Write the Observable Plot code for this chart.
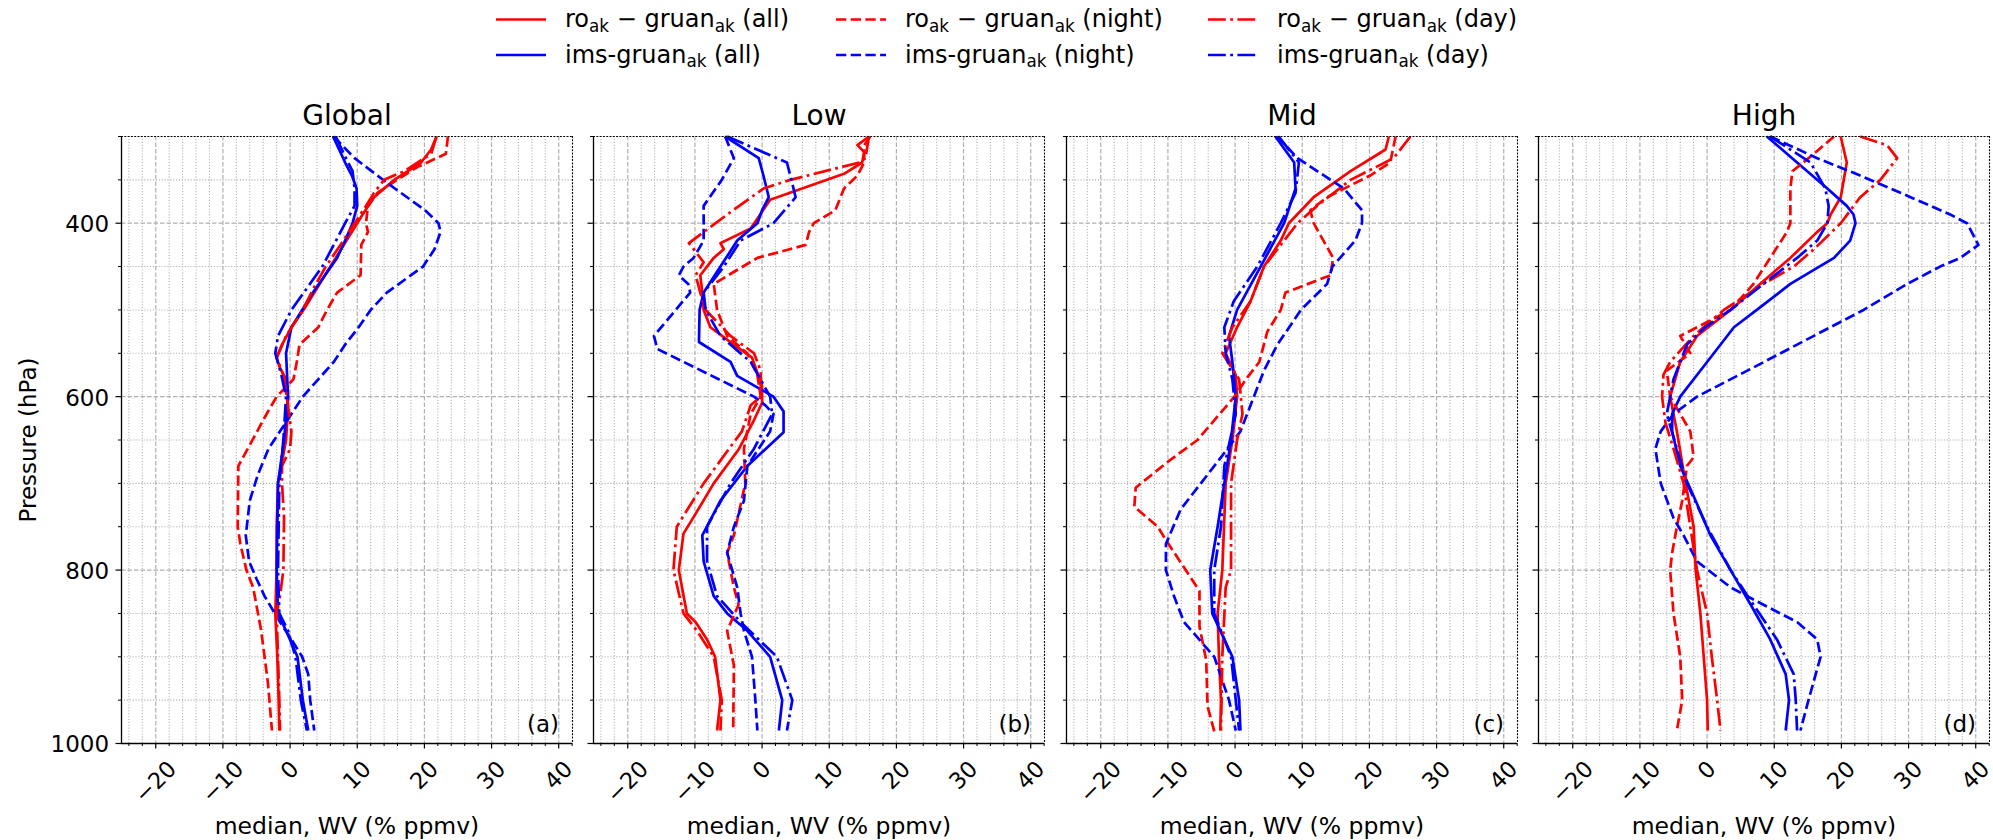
<!DOCTYPE html>
<html>
<head>
<meta charset="utf-8">
<script src="https://cdn.jsdelivr.net/npm/d3@7"></script>
<script src="https://cdn.jsdelivr.net/npm/@observablehq/plot@0.6"></script>
<style>
  html, body { margin: 0; padding: 0; background: #fff; }
  #chart { position: relative; width: 1993px; height: 840px; overflow: hidden; font-family: "DejaVu Sans", sans-serif; }
  .panel { position: absolute; top: 80px; }
  #legend { position: absolute; left: 0; top: 0; }
</style>
</head>
<body>
<div id="chart"><svg id="legend" width="1993" height="80"></svg></div>
<script>
// ---- axis ticks ----
const pressureMajor = [400, 600, 800, 1000];
const pressureMinor = [300, 350, 450, 500, 550, 650, 700, 750, 850, 900, 950];
const wvMajor = [-20, -10, 0, 10, 20, 30, 40];
const wvMinor = [-24, -22, -18, -16, -14, -12, -8, -6, -4, -2, 2, 4, 6, 8, 12, 14, 16, 18, 22, 24, 26, 28, 32, 34, 36, 38, 42];

// ---- panels ----
const panelTitles = ["Global", "Low", "Mid", "High"];
const panelTags = ["(a)", "(b)", "(c)", "(d)"];
const kinds = ["all", "night", "day"];

// ---- profiles: [pressure hPa, median WV difference %] ----
const globalRoAll = [[300,21.8],[315,21],[330,19.5],[350,15.5],[370,12.5],[390,10.8],[400,10],[425,8],[450,6],[475,4],[500,2],[520,0.2],[540,-1.2],[555,-2],[565,-1.6],[580,-0.6],[600,-0.3],[625,-0.4],[650,-0.6],[675,-1.2],[700,-1.8],[750,-2],[800,-2],[850,-2.2],[900,-1.9],[950,-1.7],[985,-1.6]];
const globalRoNight = [[300,23.5],[320,23.2],[335,19],[350,15.9],[365,13],[380,11.6],[400,11.3],[410,11.6],[425,10.6],[460,10.5],[480,7],[500,5.5],[520,4.2],[540,1.4],[560,1],[580,0.5],[600,-2],[620,-3.5],[640,-4.9],[660,-6.3],[680,-7.7],[750,-7.8],[770,-7.4],[800,-6.5],[820,-5.5],[870,-4.3],[930,-3.3],[985,-2.7]];
const globalRoDay = [[300,21.8],[320,21],[340,17],[350,14],[365,12.5],[380,11.3],[400,9.6],[425,7.5],[450,5.3],[475,3.5],[500,1.9],[530,-0.6],[555,-2],[575,-1],[600,-0.5],[640,0.2],[660,0],[680,-1.2],[700,-1.2],[740,-0.9],[800,-1],[830,-1.5],[850,-2],[900,-1.8],[950,-1.6],[985,-1.5]];
const globalImsAll = [[300,6.4],[315,7.3],[330,8.2],[345,9.2],[360,9.9],[380,10],[400,9.3],[420,8.2],[440,7],[460,5.2],[480,3.4],[500,1.8],[520,0.2],[550,-0.6],[600,-0.3],[650,-0.9],[700,-1.8],[750,-1.9],[800,-2],[850,-1.8],[870,-0.6],[900,1.1],[925,1.5],[950,1.9],[985,2.7]];
const globalImsNight = [[300,6.5],[325,9.6],[345,13],[360,15.6],[385,20.1],[400,22.1],[410,22.4],[430,21.5],[450,19.8],[480,14.4],[500,12],[520,10.2],[540,8.2],[560,6.5],[580,4.2],[600,1.9],[620,0.2],[640,-1.5],[660,-3.2],[690,-4.8],[720,-6],[760,-6.6],[790,-6.1],[810,-5],[830,-3.8],[860,-1.5],[880,0.2],[900,1.8],[920,2.7],[950,3],[985,3.6]];
const globalImsDay = [[300,6.8],[320,8],[340,9.3],[360,9.6],[380,9.6],[400,8.2],[425,6.5],[450,4.8],[475,2.5],[500,0.2],[530,-1.8],[550,-2.2],[575,-1.3],[600,-0.6],[650,-1],[700,-1.6],[750,-1.7],[800,-1.8],[850,-1.6],[870,-0.3],[900,0.8],[950,1.6],[985,2.5]];

const lowRoAll = [[300,15.9],[310,14.2],[318,15.2],[330,14.9],[343,12.2],[373,1.2],[406,-1.7],[423,-6.2],[430,-5.7],[440,-7.2],[460,-9.2],[480,-8.9],[500,-8.7],[520,-7.7],[540,-4.2],[555,-1.5],[588,0],[607,0],[627,-1.2],[661,-3.5],[700,-7.2],[739,-10.2],[758,-11.7],[800,-12.4],[850,-11.2],[860,-9.9],[880,-8.2],[900,-7],[950,-6.2],[985,-6.7]];
const lowRoNight = [[300,16.1],[310,15.2],[330,15.2],[345,14.2],[360,12.2],[385,10.9],[400,7.7],[410,7],[425,6.5],[440,-0.7],[470,-7.2],[500,-6.7],[530,-5.2],[550,-2.2],[575,-0.7],[600,-0.2],[620,-1.7],[660,-2.7],[700,-2.5],[760,-4.2],[780,-5.2],[820,-4.2],[840,-3.5],[870,-5.2],[910,-4.2],[985,-4.3]];
const lowRoDay = [[300,15.9],[325,15.4],[330,14.5],[350,4.2],[360,0.2],[390,-5.2],[423,-10.9],[435,-9.7],[445,-8.7],[460,-9.9],[480,-9.2],[500,-8.4],[530,-4.7],[550,-1.2],[570,-0.2],[600,-0.2],[610,-1.7],[640,-3],[700,-8.7],[750,-12.7],[800,-13.2],[850,-11.7],[870,-9.7],[900,-7.2],[950,-6],[985,-6.2]];
const lowImsAll = [[300,-5.5],[325,-0.5],[345,0.2],[370,1],[385,0],[400,-0.7],[420,-3.7],[450,-6.2],[480,-8.7],[500,-9.3],[537,-9.4],[560,-4.7],[576,-3.7],[600,1.7],[617,3.2],[641,3.2],[680,-2.2],[720,-6.2],[760,-8.9],[790,-8.7],[830,-7.2],[850,-5.2],[870,-2.2],[900,1.2],[950,3],[985,2.5]];
const lowImsNight = [[300,-5.5],[325,-4.2],[350,-6],[380,-8.7],[420,-8.7],[440,-10.2],[450,-11.7],[460,-12.4],[470,-11],[480,-10.7],[530,-16.1],[545,-15.6],[600,-1.2],[610,0.5],[620,1.7],[640,1.2],[660,-0.5],[680,-2.2],[720,-2.7],[750,-4.2],[780,-5.2],[820,-3.7],[850,-3.2],[870,-2.7],[900,-1.5],[950,-1],[985,-0.7]];
const lowImsDay = [[300,-5.2],[330,3.7],[345,4.2],[370,5],[400,1.7],[420,-3.2],[450,-5.7],[480,-8.7],[500,-8.4],[530,-6.2],[560,-1.7],[600,1.2],[620,1.5],[660,-1.2],[700,-4.7],[750,-8.2],[790,-8.2],[830,-6.7],[860,-3.2],[900,2.2],[950,4.5],[985,3.7]];

const midRoAll = [[300,22.9],[315,22.4],[340,17.2],[370,11.7],[400,8],[420,6.8],[450,4.3],[490,2.3],[520,0.3],[550,-1.4],[575,0.1],[600,0.3],[650,-0.4],[700,-1.4],[800,-1.9],[850,-2.6],[900,-2.4],[950,-2.1],[985,-2.2]];
const midRoNight = [[300,23.9],[330,23.1],[345,20.1],[370,13.7],[385,11.2],[400,11.7],[440,14.6],[460,14.2],[480,7.5],[500,6.8],[525,4.8],[560,3.6],[578,1.8],[600,-0.1],[650,-5.6],[675,-10],[705,-14.8],[727,-15],[750,-11.5],[763,-10.5],[824,-5.3],[865,-5.3],[904,-4.3],[957,-4.1],[986,-3.1]];
const midRoDay = [[300,26.1],[325,23.6],[350,17.2],[380,12.2],[400,9.3],[450,4.3],[490,2.3],[520,-0.4],[550,-1.9],[580,0.6],[620,1.1],[650,0.3],[700,-0.6],[800,-0.6],[820,-1.4],[900,-1.9],[985,-2.1]];
const midImsAll = [[300,6],[330,8.8],[360,9],[400,7.3],[450,3.8],[500,0.3],[530,-0.9],[560,-0.4],[600,0.1],[650,-0.6],[700,-1.6],[750,-2.6],[800,-3.7],[850,-3.4],[880,-1.6],[900,-0.4],[950,0.6],[985,0.8]];
const midImsNight = [[300,6.3],[325,9.3],[360,16.2],[385,18.9],[400,18.9],[420,17.9],[450,14.5],[470,13.7],[500,9.8],[540,6.3],[570,4.3],[600,2.8],[640,0.8],[670,-2.1],[700,-5.1],[730,-8.1],[770,-10.3],[800,-10.3],[830,-9.1],[860,-7.6],[900,-3.1],[950,-0.9],[985,0.1]];
const midImsDay = [[300,6.5],[330,9.5],[365,9],[400,6.8],[450,3.3],[490,-0.2],[520,-1.6],[550,-1.4],[580,-0.4],[620,0.1],[680,-1.6],[750,-2.1],[800,-3.1],[850,-3.1],[900,-0.6],[985,0.6]];

const highRoAll = [[300,19.9],[330,20.8],[370,19.9],[390,18.4],[400,17.9],[410,16.4],[440,12.4],[470,7.9],[500,3.5],[530,-1.5],[560,-4],[600,-5.5],[640,-4.5],[700,-3.2],[750,-2],[800,-1.7],[850,-1],[900,-0.5],[950,0],[985,0.1]];
const highRoNight = [[300,18.9],[320,15.9],[340,12.7],[360,12.4],[400,12.4],[410,11.9],[440,9.4],[470,6.9],[500,3.5],[530,-4],[550,-2.5],[570,-6],[600,-5.5],[640,-2.5],[670,-2],[680,-3],[720,-3.7],[750,-4.5],[780,-5.2],[800,-5.5],[850,-5],[900,-4],[950,-3.7],[985,-4.5]];
const highRoDay = [[300,22.8],[310,26.8],[325,28.3],[350,25.8],[370,22.8],[400,19.9],[430,15.9],[450,12.9],[470,8.4],[500,2.5],[530,-2],[560,-5.5],[575,-6.5],[600,-6.7],[630,-6.2],[660,-5],[700,-3.5],[750,-2.5],[800,-1.5],[850,0],[900,0.7],[950,1.5],[985,2]];
const highImsAll = [[300,8.9],[330,13.4],[360,17.9],[380,20.8],[390,21.8],[400,22.1],[420,21.3],[440,18.9],[470,12.4],[500,7.4],[520,4],[560,0],[600,-4],[620,-5.2],[640,-5.2],[680,-4],[720,-1.7],[760,0.5],[800,3.5],[840,6.5],[880,9.4],[920,11.7],[950,12.2],[985,11.7]];
const highImsNight = [[300,9.4],[325,16.4],[345,22.8],[370,30.3],[390,36.2],[400,38.7],[425,40.4],[440,37.7],[450,34.7],[470,29.8],[500,23.3],[540,13.4],[570,6],[600,-1.5],[620,-5],[640,-6.9],[660,-7.7],[700,-6.9],[740,-5],[760,-3.5],[790,-1.5],[820,3.5],[840,8.4],[860,13.4],[880,16.4],[900,16.9],[950,15.1],[985,13.9]];
const highImsDay = [[300,9.4],[330,15.4],[360,17.6],[380,18.1],[400,17.9],[420,16.4],[440,13.4],[470,8.4],[500,3.5],[520,-0.3],[540,-3],[580,-5],[600,-5.5],[620,-6],[660,-4.5],[700,-3],[750,0],[800,3.5],[840,6.9],[880,10.4],[920,12.9],[950,13.2],[985,13.4]];

// series per panel, in drawing order: ro all, ims all, ro night, ims night, ro day, ims day
const panelSeries = [
  [globalRoAll, globalImsAll, globalRoNight, globalImsNight, globalRoDay, globalImsDay],
  [lowRoAll, lowImsAll, lowRoNight, lowImsNight, lowRoDay, lowImsDay],
  [midRoAll, midImsAll, midRoNight, midImsNight, midRoDay, midImsDay],
  [highRoAll, highImsAll, highRoNight, highImsNight, highRoDay, highImsDay]
];

// ---- styling ----
const RED = "#ff0000", BLUE = "#0000ff";
const LW = 2.7;
const DASHES = {all: null, night: "10.3,4.4", day: "17.8,4.4,2.8,4.4"};
const seriesStyle = [
  {color: RED, kind: "all"}, {color: BLUE, kind: "all"},
  {color: RED, kind: "night"}, {color: BLUE, kind: "night"},
  {color: RED, kind: "day"}, {color: BLUE, kind: "day"}
];
const FONT = "DejaVu Sans";
const X_DOMAIN = [-25.1, 42.05];
const FRAME_W = 451, FRAME_H = 607, M_TOP = 56, M_BOTTOM = 97;
const frameLefts = [121, 593, 1066, 1538];
const GRID = "#b0b0b0";

const fmt = v => (v < 0 ? "\u2212" + Math.abs(v) : String(v));

// text width helper for centring rotated tick labels under their ticks
const ctx = document.createElement("canvas").getContext("2d");
function textWidth(s, size) { ctx.font = `${size}px "${FONT}"`; return ctx.measureText(s).width; }

const XTICK_FS = 22.5;
function xTickLabel(v) {
  const s = fmt(v);
  const w = textWidth(s, XTICK_FS);
  const h = 0.73 * XTICK_FS;
  const half = 0.7071 * (w + h) / 2;
  return Plot.text([v], {
    x: d => d, frameAnchor: "bottom", text: d => fmt(d), rotate: -45,
    textAnchor: "middle", lineAnchor: "middle", fontSize: XTICK_FS,
    dy: 16 + half, fill: "black"
  });
}

const chart = document.getElementById("chart");

panelSeries.forEach((series, i) => {
  const first = i === 0;
  const ml = first ? frameLefts[0] : 12;
  const mr = 4;
  const marks = [
    // grid
    Plot.ruleX(wvMinor.filter(v => v > X_DOMAIN[0] && v < 42), {stroke: GRID, strokeWidth: 1.1, strokeDasharray: "1.1,1.8"}),
    Plot.ruleY([350, 450, 500, 550, 650, 700, 750, 850, 900, 950], {stroke: GRID, strokeWidth: 1.1, strokeDasharray: "1.1,1.8"}),
    Plot.ruleX(wvMajor, {stroke: GRID, strokeWidth: 1.2, strokeDasharray: "4.5,2"}),
    Plot.ruleY([400, 600, 800], {stroke: GRID, strokeWidth: 1.2, strokeDasharray: "4.5,2"}),
    // profiles
    ...series.map((data, k) => Plot.line(data, {
      x: d => d[1], y: d => d[0],
      stroke: seriesStyle[k].color, strokeWidth: LW,
      strokeDasharray: DASHES[seriesStyle[k].kind] || undefined,
      strokeLinejoin: "round", strokeLinecap: "butt"
    })),
    // spines
    Plot.ruleY([300], {stroke: "black", strokeWidth: 1.1, strokeDasharray: "2,1.3"}),
    Plot.ruleX([X_DOMAIN[1]], {stroke: "black", strokeWidth: 1.1, strokeDasharray: "2,1.3"}),
    Plot.ruleX([X_DOMAIN[0]], {stroke: "black", strokeWidth: 1.3}),
    Plot.ruleY([1000], {stroke: "black", strokeWidth: 1.3}),
    // ticks
    Plot.axisX(wvMajor, {anchor: "bottom", tickSize: 5.5, fill: "none", label: null, stroke: "black", strokeWidth: 1.2}),
    Plot.axisX(wvMinor, {anchor: "bottom", tickSize: 3, fill: "none", label: null, stroke: "black", strokeWidth: 1}),
    Plot.axisY(pressureMajor, {anchor: "left", tickSize: 5.5, fill: "none", label: null, stroke: "black", strokeWidth: 1.2}),
    Plot.axisY(pressureMinor, {anchor: "left", tickSize: 3, fill: "none", label: null, stroke: "black", strokeWidth: 1}),
    // tick labels
    ...wvMajor.map(xTickLabel),
    // titles and labels
    Plot.text([panelTitles[i]], {frameAnchor: "top", textAnchor: "middle", lineAnchor: "middle", dy: -20, fontSize: 28, fill: "black"}),
    Plot.text([panelTags[i]], {frameAnchor: "bottom-right", textAnchor: "end", lineAnchor: "middle", dx: -13.5, dy: -19, fontSize: 23, fill: "black"}),
    Plot.text(["median, WV (% ppmv)"], {frameAnchor: "bottom", textAnchor: "middle", lineAnchor: "middle", dy: 83, fontSize: 23.5, fill: "black"})
  ];
  if (first) {
    marks.push(
      Plot.text(pressureMajor, {y: d => d, text: d => String(d), frameAnchor: "left", textAnchor: "end", lineAnchor: "middle", dx: -12.4, dy: 1.5, fontSize: 23, fill: "black"}),
      Plot.text(["Pressure (hPa)"], {frameAnchor: "left", rotate: -90, textAnchor: "middle", lineAnchor: "middle", dx: -93, fontSize: 23, fill: "black"})
    );
  }
  const svg = Plot.plot({
    width: ml + FRAME_W + mr,
    height: M_TOP + FRAME_H + M_BOTTOM,
    marginLeft: ml, marginRight: mr, marginTop: M_TOP, marginBottom: M_BOTTOM,
    style: {fontFamily: FONT, background: "transparent", overflow: "visible", color: "black"},
    x: {domain: X_DOMAIN},
    y: {domain: [1000, 300]},
    marks
  });
  const holder = document.createElement("div");
  holder.className = "panel";
  holder.style.left = (frameLefts[i] - ml) + "px";
  holder.appendChild(svg);
  chart.appendChild(holder);
});

// ---- legend ----
const legend = d3.select("#legend").attr("font-family", FONT);
const LEG_FS = 24;
const legendCols = [496, 836, 1208];
const legendRows = [19.5, 55];
const legendSeries = [
  {name: "ro", color: RED},
  {name: "ims", color: BLUE}
];
kinds.forEach((kind, c) => {
  legendSeries.forEach((s, r) => {
    const x0 = legendCols[c], y = legendRows[r];
    legend.append("line")
      .attr("x1", x0).attr("x2", x0 + 50).attr("y1", y).attr("y2", y)
      .attr("stroke", s.color).attr("stroke-width", LW)
      .attr("stroke-dasharray", DASHES[kind]);
    const t = legend.append("text")
      .attr("x", x0 + 69).attr("y", y + 0.32 * LEG_FS)
      .attr("font-size", LEG_FS).attr("fill", "black");
    const sub = txt => t.append("tspan").attr("font-size", LEG_FS * 0.7).attr("dy", 4.5).text(txt);
    const reg = (txt, dy) => t.append("tspan").attr("dy", dy).text(txt);
    if (s.name === "ro") {
      reg("ro", 0); sub("ak"); reg(" \u2212 ", -4.5); reg("gruan", 0); sub("ak"); reg(` (${kind})`, -4.5);
    } else {
      reg("ims-gruan", 0); sub("ak"); reg(` (${kind})`, -4.5);
    }
  });
});
</script>
</body>
</html>
